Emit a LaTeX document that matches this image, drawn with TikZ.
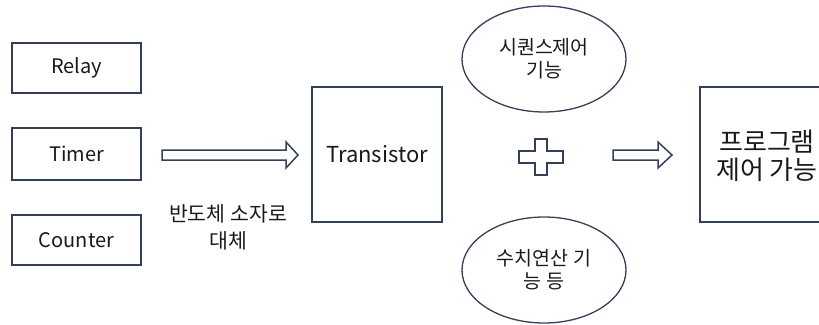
\documentclass[tikz,border=0pt]{standalone}
\usepackage{fontspec}
\setmainfont{Noto Sans CJK KR}
\usetikzlibrary{shapes.geometric,shapes.arrows}
\definecolor{ln}{HTML}{34405A}
\definecolor{tx}{HTML}{1A1A1A}
\tikzset{
  box/.style={draw=ln,line width=1.6pt,fill=white,text=tx,inner sep=0pt},
  oval/.style={draw=ln,line width=1.3pt,ellipse,fill=white,text=tx,inner sep=0pt,minimum width=164pt,minimum height=106pt,align=center,font=\fontsize{19.5}{23}\selectfont},
  lbl/.style={text=tx,align=center,inner sep=0pt},
  fat/.style={draw=ln,line width=1.5pt,fill=white}
}
\begin{document}
\begin{tikzpicture}[x=1pt,y=-1pt]
\useasboundingbox (0,0) rectangle (819,324);
\node[box,minimum width=129pt,minimum height=50pt,font=\fontsize{20}{24}\selectfont] (relay) at (76.5,68) {Relay};
\node[box,minimum width=129pt,minimum height=52pt,font=\fontsize{20}{24}\selectfont] (timer) at (76.5,154) {Timer};
\node[box,minimum width=129pt,minimum height=50pt,font=\fontsize{20}{24}\selectfont] (counter) at (76.5,240) {Counter};
\node[box,minimum width=130pt,minimum height=135pt,font=\fontsize{22}{26}\selectfont] (tr) at (377,154.5) {Transistor};
\node[oval] (seq) at (544,59) {시퀀스제어\\기능};
\node[oval] (num) at (544,270) {수치연산 기\\능 등};
\node[box,minimum width=140pt,minimum height=135pt,anchor=west] (prog) at (699,154.5) {};
\node[lbl,font=\fontsize{26}{28}\selectfont] (progt) at (767,156) {프로그램\\제어 가능};
\node[lbl,font=\fontsize{20.5}{27}\selectfont] (sub) at (228,227) {반도체 소자로\\대체};
% hollow arrows
\draw[fat,line join=miter] (162,150) -- (286,150) -- (286,142) -- (298,155) -- (286,168) -- (286,160) -- (162,160) -- cycle;
\draw[fat,line join=miter] (613,150) -- (658,150) -- (658,142) -- (672,155) -- (658,168) -- (658,160) -- (613,160) -- cycle;
% plus
\coordinate (pc) at (541,157);
\draw[fat,line width=1.3pt] ([shift={(-6,-18)}]pc) -- ([shift={(6,-18)}]pc) -- ([shift={(6,-6)}]pc) -- ([shift={(22,-6)}]pc) -- ([shift={(22,6)}]pc) -- ([shift={(6,6)}]pc) -- ([shift={(6,18)}]pc) -- ([shift={(-6,18)}]pc) -- ([shift={(-6,6)}]pc) -- ([shift={(-22,6)}]pc) -- ([shift={(-22,-6)}]pc) -- ([shift={(-6,-6)}]pc) -- cycle;
\end{tikzpicture}
\end{document}
